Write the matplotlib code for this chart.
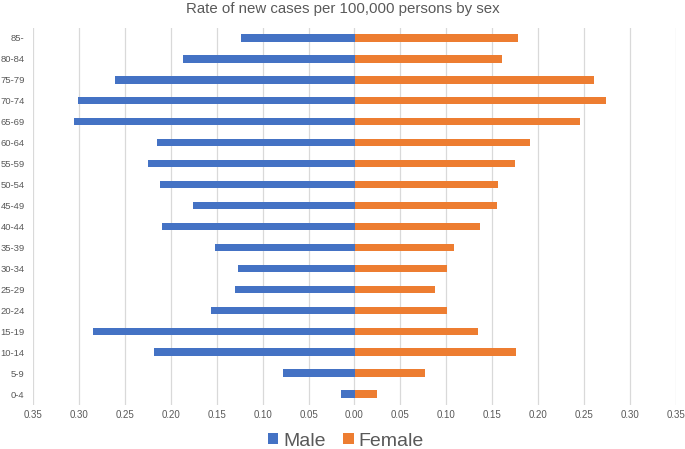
import numpy as np
import matplotlib.pyplot as plt

# age groups, top to bottom as in the chart
ages = ['85-', '80-84', '75-79', '70-74', '65-69', '60-64', '55-59', '50-54', '45-49',
        '40-44', '35-39', '30-34', '25-29', '20-24', '15-19', '10-14', '5-9', '0-4']
male = [0.124, 0.187, 0.261, 0.301, 0.305, 0.215, 0.225, 0.212, 0.176,
        0.210, 0.152, 0.127, 0.130, 0.156, 0.285, 0.218, 0.078, 0.0145]
female = [0.178, 0.161, 0.261, 0.274, 0.246, 0.191, 0.1745, 0.156, 0.155,
          0.137, 0.108, 0.101, 0.088, 0.101, 0.134, 0.176, 0.077, 0.024]
xticks = np.arange(-0.35, 0.351, 0.05)

plt.rcParams['font.family'] = ['Liberation Sans', 'DejaVu Sans']
txt = '#595959'

fig = plt.figure(figsize=(6.85, 4.49), dpi=100)
ax = fig.add_axes([33/685, 1-404.5/449, (676-33)/685, (404.5-27.5)/449])

y = np.arange(len(ages))
ax.barh(y, -np.array(male), height=0.35, color='#4472C4', label='Male', zorder=3)
ax.barh(y, female, height=0.35, color='#ED7D31', label='Female', zorder=3)

ax.set_xlim(-0.35, 0.35)
ax.set_ylim(len(ages)-0.5, -0.5)
ax.set_xticks(xticks)
ax.set_xticklabels(['%.2f' % abs(v) for v in xticks], fontsize=7, color=txt)
ax.set_yticks(y)
ax.set_yticklabels(ages, fontsize=6.8, color=txt)
ax.tick_params(axis='y', length=0, pad=6)
ax.tick_params(axis='x', length=0, pad=4)
ax.grid(axis='x', color='#D9D9D9', linewidth=0.9, zorder=0)
for s in ax.spines.values():
    s.set_visible(False)

# title centred on the whole chart area
fig.text(0.5, 1-9/449, 'Rate of new cases per 100,000 persons by sex', fontsize=10.8,
         color=txt, ha='center', va='center')
fig.legend(loc='center', bbox_to_anchor=(0.505, 8/449), ncol=2, frameon=False,
           fontsize=14, labelcolor=txt, handlelength=0.55, handleheight=0.55,
           handletextpad=0.25, columnspacing=0.9, borderaxespad=0)

fig.savefig('out.png', dpi=100)
